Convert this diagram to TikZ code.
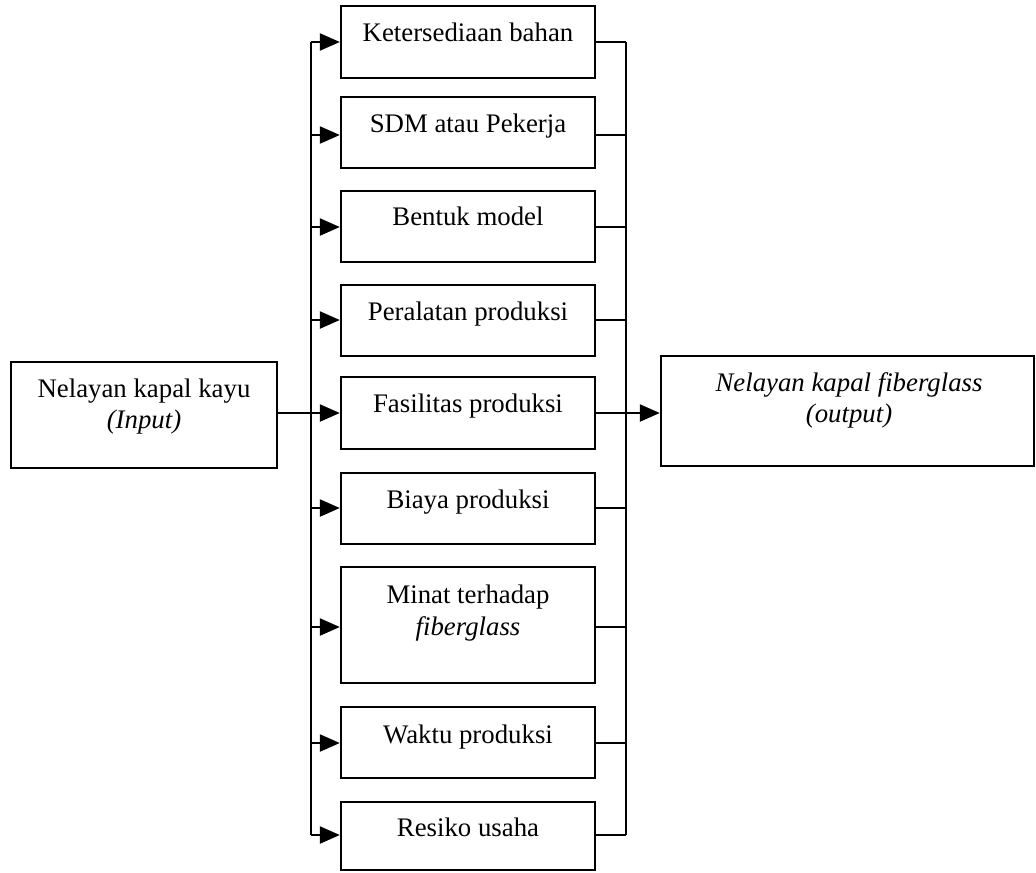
\documentclass[tikz,border=0pt]{standalone}
\usepackage{fontspec}
\setmainfont{Liberation Serif}
\usetikzlibrary{arrows.meta}
\begin{document}
\begin{tikzpicture}[x=0.5pt,y=-0.5pt,line width=1.2pt,
  box/.style={draw,rectangle,inner sep=0pt,line width=1.2pt,minimum width=127pt},
  txt/.style={anchor=base,inner sep=0pt,font=\fontsize{13.4}{16}\selectfont},
  arr/.style={-{Triangle[length=10pt,width=8.5pt]}}]
\useasboundingbox (0,0) rectangle (1036,872);
% column boxes
\node[box,minimum height=36pt]   (b1) at (468,42) {};
\node[box,minimum height=35.5pt] (b2) at (468,132.5) {};
\node[box,minimum height=35.5pt] (b3) at (468,226.5) {};
\node[box,minimum height=35.5pt] (b4) at (468,320.5) {};
\node[box,minimum height=36pt]   (b5) at (468,413) {};
\node[box,minimum height=35.5pt] (b6) at (468,508.5) {};
\node[box,minimum height=58pt]   (b7) at (468,625) {};
\node[box,minimum height=35.5pt] (b8) at (468,742.5) {};
\node[box,minimum height=34pt]   (b9) at (468,836) {};
% input / output
\node[draw,rectangle,inner sep=0pt,minimum width=133pt,minimum height=53pt] (in) at (144,415) {};
\node[draw,rectangle,inner sep=0pt,minimum width=186.5pt,minimum height=55pt] (out) at (847.5,411) {};
% texts
\node[txt] (t1) at (468,42) {Ketersediaan bahan};
\node[txt] (t2) at (468,132) {SDM atau Pekerja};
\node[txt] (t3) at (468,225) {Bentuk model};
\node[txt] (t4) at (468,320) {Peralatan produksi};
\node[txt] (t5) at (468,412) {Fasilitas produksi};
\node[txt] (t6) at (468,508) {Biaya produksi};
\node[txt] (t7a) at (468,603) {Minat terhadap};
\node[txt] (t7b) at (468,635) {\itshape fiberglass};
\node[txt] (t8) at (468,743) {Waktu produksi};
\node[txt] (t9) at (468,836) {Resiko usaha};
\node[txt] (ti1) at (144,397) {Nelayan kapal kayu};
\node[txt] (ti2) at (144,428) {\itshape (Input)};
\node[txt] (to1) at (849,391) {\itshape Nelayan kapal fiberglass};
\node[txt] (to2) at (849,422) {\itshape (output)};
% bus coordinates
\coordinate (L1) at (311,42);  \coordinate (R1) at (626,42);
\coordinate (L2) at (311,135); \coordinate (R2) at (626,135);
\coordinate (L3) at (311,227); \coordinate (R3) at (626,227);
\coordinate (L4) at (311,320); \coordinate (R4) at (626,320);
\coordinate (L5) at (311,413); \coordinate (R5) at (626,413);
\coordinate (L6) at (311,508); \coordinate (R6) at (626,508);
\coordinate (L7) at (311,627); \coordinate (R7) at (626,627);
\coordinate (L8) at (311,743); \coordinate (R8) at (626,743);
\coordinate (L9) at (311,835); \coordinate (R9) at (626,835);
% buses
\draw (L1) -- (L9);
\draw (R1) -- (R9);
% input line
\draw (in.east |- L5) -- (L5);
% arrows into boxes and lines out
\foreach \i in {1,...,9}{
  \draw[arr] (L\i) -- (L\i -| b\i.west);
  \draw (R\i -| b\i.east) -- (R\i);
}
% output arrow
\draw[arr] (R5) -- (R5 -| out.west);
\end{tikzpicture}
\end{document}
